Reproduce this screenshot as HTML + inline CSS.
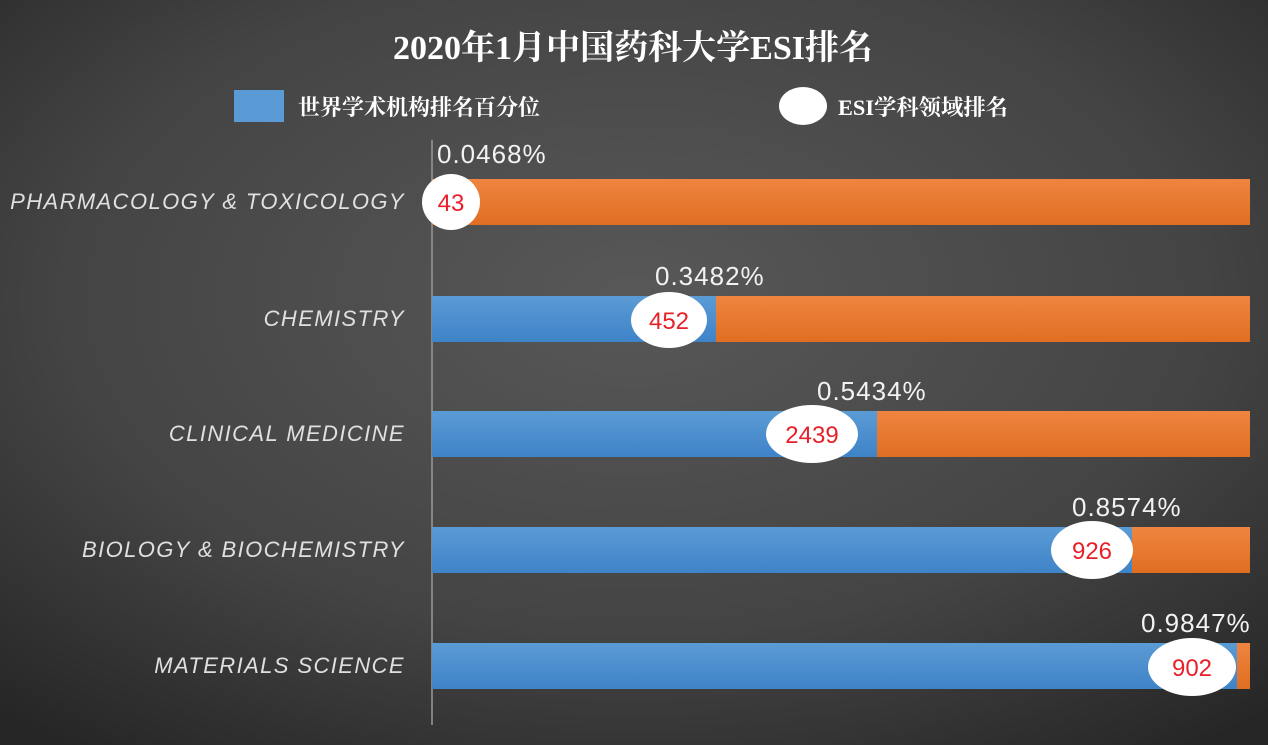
<!DOCTYPE html>
<html><head><meta charset="utf-8"><style>
html,body{margin:0;padding:0;width:1268px;height:745px;overflow:hidden;background:#3a3a3a}
</style></head><body>
<svg width="1268" height="745" xmlns="http://www.w3.org/2000/svg">
<defs>
<radialGradient id="bg" cx="0.5" cy="0.4" r="0.75">
<stop offset="0" stop-color="#585858"/><stop offset="0.6" stop-color="#444"/><stop offset="1" stop-color="#262626"/>
</radialGradient>
<linearGradient id="bl" x1="0" y1="0" x2="0" y2="1"><stop offset="0" stop-color="#5b9bd5"/><stop offset="1" stop-color="#3f83c8"/></linearGradient>
<linearGradient id="or" x1="0" y1="0" x2="0" y2="1"><stop offset="0" stop-color="#ee8540"/><stop offset="1" stop-color="#e06e22"/></linearGradient>
</defs>
<rect width="1268" height="745" fill="url(#bg)"/>
<text x="633" y="59" text-anchor="middle" fill="#fff" font-family="'Liberation Serif','Noto Serif CJK SC',serif" font-weight="bold" font-size="34" textLength="480" lengthAdjust="spacingAndGlyphs">2020年1月中国药科大学ESI排名</text>
<rect x="234" y="90" width="50" height="32" fill="#5b9bd5"/>
<text x="298" y="115" fill="#fff" font-family="'Liberation Serif','Noto Serif CJK SC',serif" font-weight="bold" font-size="22" textLength="242" lengthAdjust="spacingAndGlyphs">世界学术机构排名百分位</text>
<ellipse cx="803" cy="106" rx="24" ry="19" fill="#fff"/>
<text x="838" y="115" fill="#fff" font-family="'Liberation Serif','Noto Serif CJK SC',serif" font-weight="bold" font-size="22" textLength="170" lengthAdjust="spacingAndGlyphs">ESI学科领域排名</text>
<line x1="432" y1="140" x2="432" y2="725" stroke="#999" stroke-width="1.5"/>
<g font-family="'Liberation Sans',sans-serif" font-style="italic" font-size="22" fill="#e0e0e0" text-anchor="end" letter-spacing="1.4">
<text x="405" y="209">PHARMACOLOGY &amp; TOXICOLOGY</text>
<text x="405" y="326">CHEMISTRY</text>
<text x="405" y="441">CLINICAL MEDICINE</text>
<text x="405" y="557">BIOLOGY &amp; BIOCHEMISTRY</text>
<text x="405" y="673">MATERIALS SCIENCE</text>
</g>
<g>
<rect x="432" y="179" width="818" height="46" fill="url(#or)"/>
<rect x="432" y="296" width="818" height="46" fill="url(#or)"/>
<rect x="432" y="296" width="284" height="46" fill="url(#bl)"/>
<rect x="432" y="411" width="818" height="46" fill="url(#or)"/>
<rect x="432" y="411" width="445" height="46" fill="url(#bl)"/>
<rect x="432" y="527" width="818" height="46" fill="url(#or)"/>
<rect x="432" y="527" width="700" height="46" fill="url(#bl)"/>
<rect x="432" y="643" width="818" height="46" fill="url(#or)"/>
<rect x="432" y="643" width="805" height="46" fill="url(#bl)"/>
</g>
<g fill="#fff">
<ellipse cx="451" cy="202" rx="29" ry="28"/>
<ellipse cx="669" cy="320" rx="38" ry="28"/>
<ellipse cx="812" cy="434" rx="46" ry="29"/>
<ellipse cx="1092" cy="550" rx="41" ry="29"/>
<ellipse cx="1192" cy="667" rx="44" ry="29"/>
</g>
<g font-family="'Liberation Sans',sans-serif" font-size="24" fill="#e8202a" text-anchor="middle">
<text x="451" y="211">43</text>
<text x="669" y="329">452</text>
<text x="812" y="443">2439</text>
<text x="1092" y="559">926</text>
<text x="1192" y="676">902</text>
</g>
<g font-family="'Liberation Sans',sans-serif" font-size="26" fill="#f2f2f2" letter-spacing="1">
<text x="437" y="163">0.0468%</text>
<text x="655" y="285">0.3482%</text>
<text x="817" y="400">0.5434%</text>
<text x="1072" y="516">0.8574%</text>
<text x="1141" y="632">0.9847%</text>
</g>
</svg>
</body></html>
